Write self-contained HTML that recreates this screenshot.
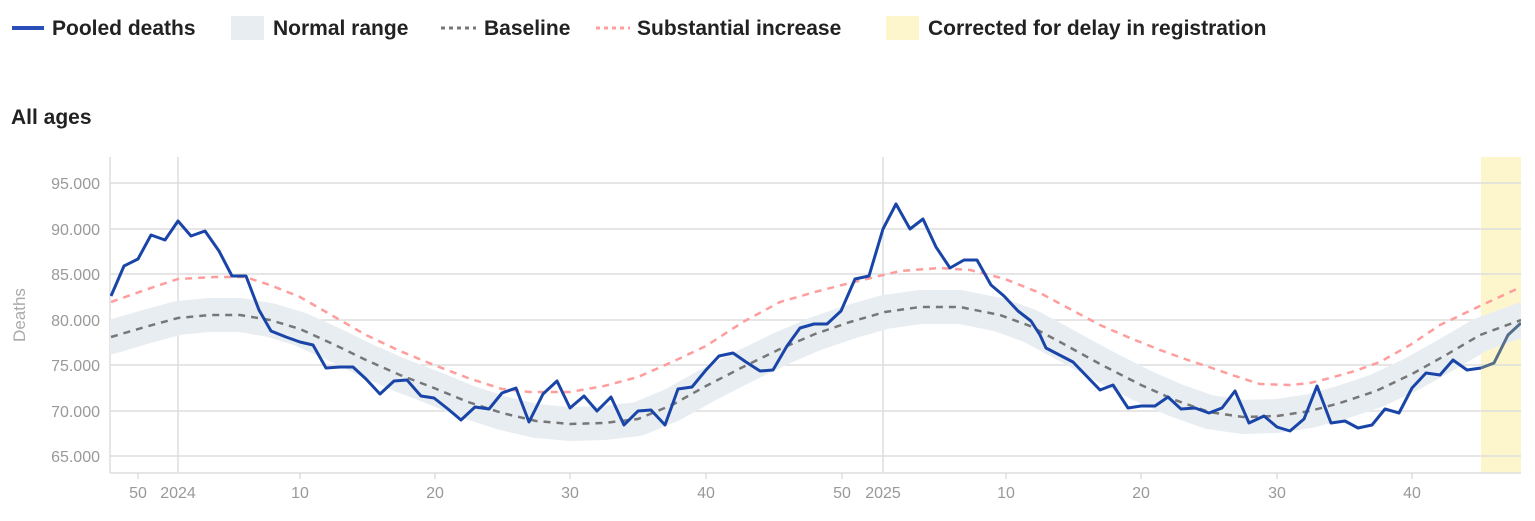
<!DOCTYPE html>
<html><head><meta charset="utf-8"><style>
body{margin:0;background:#fff;width:1535px;height:516px;overflow:hidden;font-family:"Liberation Sans",sans-serif}
</style></head><body>
<svg width="1535" height="516" xmlns="http://www.w3.org/2000/svg" font-family="Liberation Sans, sans-serif">
<g font-size="21" font-weight="bold" fill="#222">
<line x1="12" y1="28" x2="44" y2="28" stroke="#2a4fb8" stroke-width="4"/>
<text x="52" y="35">Pooled deaths</text>
<rect x="231" y="16" width="33" height="24" fill="#e8edf2"/>
<text x="273" y="35">Normal range</text>
<line x1="441" y1="28" x2="476" y2="28" stroke="#777" stroke-width="3" stroke-dasharray="4,4"/>
<text x="484" y="35">Baseline</text>
<line x1="596" y1="28" x2="630" y2="28" stroke="#ff9d9d" stroke-width="3" stroke-dasharray="4,4"/>
<text x="637" y="35">Substantial increase</text>
<rect x="886" y="16" width="33" height="24" fill="#fdf6cc"/>
<text x="928" y="35">Corrected for delay in registration</text>
<text x="11" y="124">All ages</text>
</g>
<rect x="1481" y="157" width="40" height="316" fill="#fdf6cc"/>
<g stroke="#ddd" stroke-width="1.5">
<line x1="110" y1="183" x2="1521" y2="183"/><line x1="110" y1="229" x2="1521" y2="229"/>
<line x1="110" y1="274" x2="1521" y2="274"/><line x1="110" y1="320" x2="1521" y2="320"/>
<line x1="110" y1="365" x2="1521" y2="365"/><line x1="110" y1="411" x2="1521" y2="411"/>
<line x1="110" y1="456" x2="1521" y2="456"/><line x1="110" y1="473" x2="1521" y2="473"/>
<line x1="110" y1="157" x2="110" y2="473"/>
<line x1="178" y1="157" x2="178" y2="473"/><line x1="883" y1="157" x2="883" y2="473"/>
<line x1="138" y1="473" x2="138" y2="479"/><line x1="300" y1="473" x2="300" y2="479"/><line x1="435" y1="473" x2="435" y2="479"/><line x1="570" y1="473" x2="570" y2="479"/><line x1="706" y1="473" x2="706" y2="479"/><line x1="842" y1="473" x2="842" y2="479"/><line x1="1006" y1="473" x2="1006" y2="479"/><line x1="1141" y1="473" x2="1141" y2="479"/><line x1="1277" y1="473" x2="1277" y2="479"/><line x1="1412" y1="473" x2="1412" y2="479"/>
</g>
<g font-size="16" fill="#999" text-anchor="end">
<text x="100" y="189">95.000</text><text x="100" y="235">90.000</text><text x="100" y="280">85.000</text>
<text x="100" y="326">80.000</text><text x="100" y="371">75.000</text><text x="100" y="417">70.000</text><text x="100" y="462">65.000</text>
</g>
<g font-size="16" fill="#999" text-anchor="middle">
<text x="138" y="498">50</text><text x="178" y="498">2024</text><text x="300" y="498">10</text><text x="435" y="498">20</text><text x="570" y="498">30</text><text x="706" y="498">40</text><text x="842" y="498">50</text><text x="883" y="498">2025</text><text x="1006" y="498">10</text><text x="1141" y="498">20</text><text x="1277" y="498">30</text><text x="1412" y="498">40</text>
</g>
<text transform="translate(25,315) rotate(-90)" font-size="17" fill="#aaa" text-anchor="middle">Deaths</text>
<svg x="110" y="157" width="1411" height="316" overflow="hidden"><g transform="translate(-110,-157)">
<polyline fill="none" stroke="#e8edf2" stroke-width="34" stroke-linejoin="round" points="100,340 111,337 145,327 178,318 210,315 240,315 270,320 300,329 333,344 366,360 400,375 434,388 468,402 502,413 536,421 570,424 604,423 638,419 672,405 706,386 743,367 780,349 815,334 850,322 885,312 920,307 960,307 1000,315 1030,326 1060,342 1100,364 1141,385 1175,400 1209,412 1243,417 1277,416 1310,411 1340,403 1376,391 1412,374 1446,355 1480,335 1521,320 1535,316"/>
<polyline fill="none" stroke="#777" stroke-width="2.5" stroke-dasharray="7,6" points="111,337 145,327 178,318 210,315 240,315 270,320 300,329 333,344 366,360 400,375 434,388 468,402 502,413 536,421 570,424 604,423 638,419 672,405 706,386 743,367 780,349 815,334 850,322 885,312 920,307 960,307 1000,315 1030,326 1060,342 1100,364 1141,385 1175,400 1209,412 1243,417 1277,416 1310,411 1340,403 1376,391 1412,374 1446,355 1480,335 1521,320"/>
<polyline fill="none" stroke="#ff9d9d" stroke-width="2.5" stroke-dasharray="7,6" points="111,302 145,290 178,279 215,277 245,277 270,285 300,297 333,316 366,335 400,351 434,365 468,378 502,389 530,392 570,392 604,386 638,377 672,362 706,346 743,322 780,302 815,292 850,283 900,271 940,268 970,270 1005,279 1040,293 1070,309 1100,325 1130,338 1160,350 1185,359 1209,367 1235,376 1260,384 1290,385 1310,383 1330,378 1355,371 1380,362 1410,345 1440,325 1480,306 1521,287"/>
<polyline fill="none" stroke="#1a45a8" stroke-width="3" stroke-linejoin="round" points="111,296 124,266 138,259 151,235 165,240 178,221 191,236 205,231 219,251 232,276 246,276 259,310 271,331 286,337 300,342 313,345 326,368 340,367 353,367 366,379 380,394 394,381 407,380 421,396 434,398 448,409 461,420 475,407 489,409 502,393 516,388 529,422 543,394 557,381 570,408 584,396 597,411 611,397 624,425 638,411 651,410 665,425 678,389 692,387 706,370 719,356 733,353 746,362 760,371 773,370 787,346 800,328 814,324 827,324 841,311 855,279 869,276 883,229 896,204 910,229 923,219 936,247 950,268 964,260 977,260 991,285 1004,296 1018,311 1031,321 1040,335 1046,348 1073,362 1100,390 1113,385 1128,408 1141,406 1155,406 1168,397 1181,409 1195,408 1209,413 1222,408 1235,391 1249,423 1264,416 1277,427 1290,431 1304,419 1317,386 1331,423 1345,421 1358,428 1372,425 1385,409 1399,413 1412,388 1426,373 1440,375 1453,360 1467,370 1481,368"/>
<polyline fill="none" stroke="#566e8a" stroke-width="3" stroke-linejoin="round" points="1481,368 1494,363 1508,335 1521,323"/>
</g></svg>
</svg>
</body></html>
